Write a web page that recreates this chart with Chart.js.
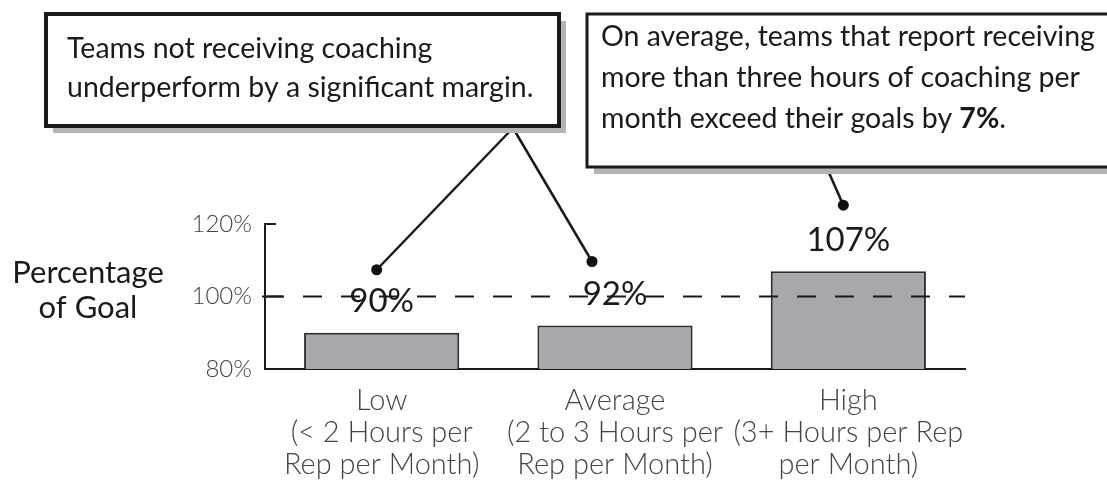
<!DOCTYPE html>
<html><head><meta charset="utf-8">
<script src="https://cdn.jsdelivr.net/npm/chart.js@4.4.1/dist/chart.umd.min.js"></script>
<style>html,body{margin:0;padding:0;background:#fff;}#wrap{width:1107px;height:482px;}</style>
</head><body><div id="wrap"><canvas id="c" width="1107" height="482"></canvas></div>
<script>
// ---- data ----
const categories = [
  ["Low", "(< 2 Hours per", "Rep per Month)"],
  ["Average", "(2 to 3 Hours per", "Rep per Month)"],
  ["High", "(3+ Hours per Rep", "per Month)"]
];
const values = [90, 92, 107];
const valueLabels = ["90%", "92%", "107%"];
const yMin = 80, yMax = 120, yStep = 20;
const goalLine = 100;
const axisTitle = ["Percentage", "of Goal"];
const calloutLow = ["Teams not receiving coaching", "underperform by a significant margin."];
const calloutHigh = ["On average, teams that report receiving", "more than three hours of coaching per", "month exceed their goals by "];
const calloutHighBold = "7%";
const calloutHighEnd = ".";

// ---- annotation layout (pixel offsets of pointer dots from bar tops) ----
const pointerOffsets = [[-5, -63], [-23, -64], [-5, -66]];

const FONT = "Lato, 'Open Sans', sans-serif";

const annot = {
  id: 'annot',
  afterDatasetsDraw(chart) {
    const ctx = chart.ctx, area = chart.chartArea;
    const y = chart.scales.y;
    const meta = chart.getDatasetMeta(0);
    ctx.save();
    // dashed goal line
    const gy = y.getPixelForValue(goalLine);
    ctx.strokeStyle = '#1a1a1a'; ctx.lineWidth = 2; ctx.setLineDash([19, 19]);
    ctx.beginPath(); ctx.moveTo(area.left, gy); ctx.lineTo(area.right, gy); ctx.stroke();
    ctx.setLineDash([]);
    // inner tick marks
    ctx.lineWidth = 2; ctx.strokeStyle = '#1a1a1a';
    [[yMax, 0, 11], [goalLine, -3, 18]].forEach(([v, a, b]) => {
      const py = y.getPixelForValue(v);
      ctx.beginPath(); ctx.moveTo(area.left + a, py); ctx.lineTo(area.left + b, py); ctx.stroke();
    });
    // value labels
    ctx.fillStyle = '#1a1a1a'; ctx.font = '33px ' + FONT;
    ctx.textAlign = 'center'; ctx.textBaseline = 'middle';
    meta.data.forEach((bar, i) => { ctx.fillText(valueLabels[i], bar.x, bar.y - 31); });

    // pointer dots
    const dots = meta.data.map((bar, i) => [bar.x + pointerOffsets[i][0], bar.y + pointerOffsets[i][1]]);
    // connectors
    ctx.strokeStyle = '#1a1a1a'; ctx.lineWidth = 2.5;
    const apex1 = [513, 128];
    [dots[0], dots[1]].forEach(d => { ctx.beginPath(); ctx.moveTo(apex1[0], apex1[1]); ctx.lineTo(d[0], d[1]); ctx.stroke(); });
    ctx.beginPath(); ctx.moveTo(826, 166); ctx.lineTo(dots[2][0], dots[2][1]); ctx.stroke();
    ctx.fillStyle = '#111';
    dots.forEach(d => { ctx.beginPath(); ctx.arc(d[0], d[1], 5.5, 0, Math.PI * 2); ctx.fill(); });

    // callout boxes
    function box(l, t, r, b, lw) {
      ctx.fillStyle = '#b3b4b6';
      ctx.fillRect(l + 7, t + 7, r - l, b - t);
      ctx.fillStyle = '#fff';
      ctx.fillRect(l, t, r - l, b - t);
      ctx.strokeStyle = '#1a1a1a'; ctx.lineWidth = lw;
      ctx.strokeRect(l, t, r - l, b - t);
    }
    box(46, 14, 559, 126, 4);
    box(587, 14, 1125, 167, 3);

    ctx.fillStyle = '#1a1a1a'; ctx.textAlign = 'left'; ctx.textBaseline = 'alphabetic';
    const bf = '28.5px ' + FONT;
    ctx.font = bf;
    ctx.fillText(calloutLow[0], 67, 58);
    ctx.fillText(calloutLow[1], 67, 97);
    ctx.fillText(calloutHigh[0], 601, 46);
    ctx.fillText(calloutHigh[1], 601, 87);
    ctx.fillText(calloutHigh[2], 601, 128);
    const w = ctx.measureText(calloutHigh[2]).width;
    ctx.font = 'bold ' + bf;
    ctx.fillText(calloutHighBold, 601 + w, 128);
    const w2 = ctx.measureText(calloutHighBold).width;
    ctx.font = bf;
    ctx.fillText(calloutHighEnd, 601 + w + w2, 128);

    // axis title
    ctx.textAlign = 'center';
    ctx.font = '31px ' + FONT;
    ctx.fillText(axisTitle[0], 88, 283);
    ctx.fillText(axisTitle[1], 88, 318);
    ctx.restore();
  }
};

new Chart(document.getElementById('c'), {
  type: 'bar',
  data: {
    labels: categories,
    datasets: [{
      data: values,
      backgroundColor: '#a7a8ab',
      borderColor: '#2a2a2a',
      borderWidth: 2,
      borderSkipped: 'bottom',
      barPercentage: 0.665,
      categoryPercentage: 1
    }]
  },
  options: {
    responsive: false,
    animation: false,
    devicePixelRatio: 1,
    layout: { padding: { top: 224, right: 142, left: 0, bottom: 0 } },
    plugins: { legend: { display: false }, tooltip: { enabled: false }, title: { display: false } },
    scales: {
      x: {
        grid: { display: false, drawTicks: false },
        border: { display: true, color: '#1a1a1a', width: 2 },
        ticks: { font: { family: FONT, size: 29, weight: 300, lineHeight: 1.1 }, color: '#444', padding: 16, maxRotation: 0, autoSkip: false },
        afterFit(s) { s.height = 113; }
      },
      y: {
        min: yMin, max: yMax,
        grid: { display: false, drawTicks: false },
        border: { display: true, color: '#1a1a1a', width: 2 },
        ticks: { stepSize: yStep, callback: v => v + '%', font: { family: FONT, size: 24, weight: 300 }, color: '#444', padding: 13 },
        afterFit(s) { s.width = 265; }
      }
    }
  },
  plugins: [annot]
});
</script></body></html>
